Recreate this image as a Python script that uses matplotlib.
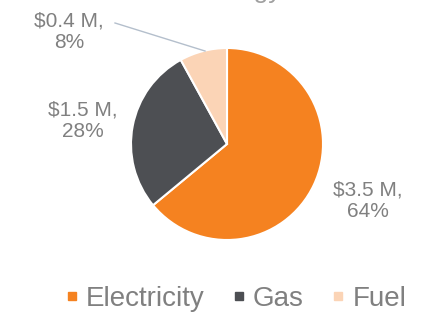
import matplotlib.pyplot as plt
from matplotlib.lines import Line2D

plt.rcParams['font.family'] = ['Liberation Sans', 'DejaVu Sans']

categories = ["Electricity", "Gas", "Fuel"]
cost_musd = [3.5, 1.5, 0.4]
share_pct = [64, 28, 8]
colors = ["#F58220", "#4D4F53", "#FBD4B6"]
txt_grey = "#808080"

fig = plt.figure(figsize=(4.32, 3.2), dpi=100)
ax = fig.add_axes([0, 0, 1, 1])
ax.set_xlim(0, 432)
ax.set_ylim(0, 320)
ax.set_aspect('equal')
ax.axis('off')

# pie, clockwise from 12 o'clock
wedges, _ = ax.pie(share_pct, colors=colors, startangle=90, counterclock=False,
                   center=(227, 176), radius=96,
                   wedgeprops=dict(edgecolor='white', linewidth=1.5))
ax.set_xlim(0, 432)
ax.set_ylim(0, 320)

labels = ["$%.1f M,\n%d%%" % (c, p) for c, p in zip(cost_musd, share_pct)]
label_pos = [(368, 119), (83, 199), (69, 288)]
for lab, (x, y) in zip(labels, label_pos):
    ax.text(x, y, lab, ha='center', va='center', fontsize=15, color=txt_grey,
            linespacing=1.15)

# leader line for the small slice
ax.plot([115, 205], [297, 269], color="#B4BFCC", linewidth=1)

# title, mostly cut off by the top edge
ax.text(232, 322, "Annual Energy Costs", ha='center', va='baseline', fontsize=19,
        color="#A0A0A0", clip_on=False)

handles = [Line2D([], [], marker='s', linestyle='none', markersize=6,
                  markerfacecolor=c, markeredgecolor=c) for c in colors]
fig.legend(handles, categories, loc='center', bbox_to_anchor=(234 / 432, 1 - 299 / 320),
           ncol=3, frameon=False, fontsize=20, labelcolor=txt_grey,
           handletextpad=0.15, columnspacing=0.9, handlelength=0.7)

fig.savefig("out.png", dpi=100)
